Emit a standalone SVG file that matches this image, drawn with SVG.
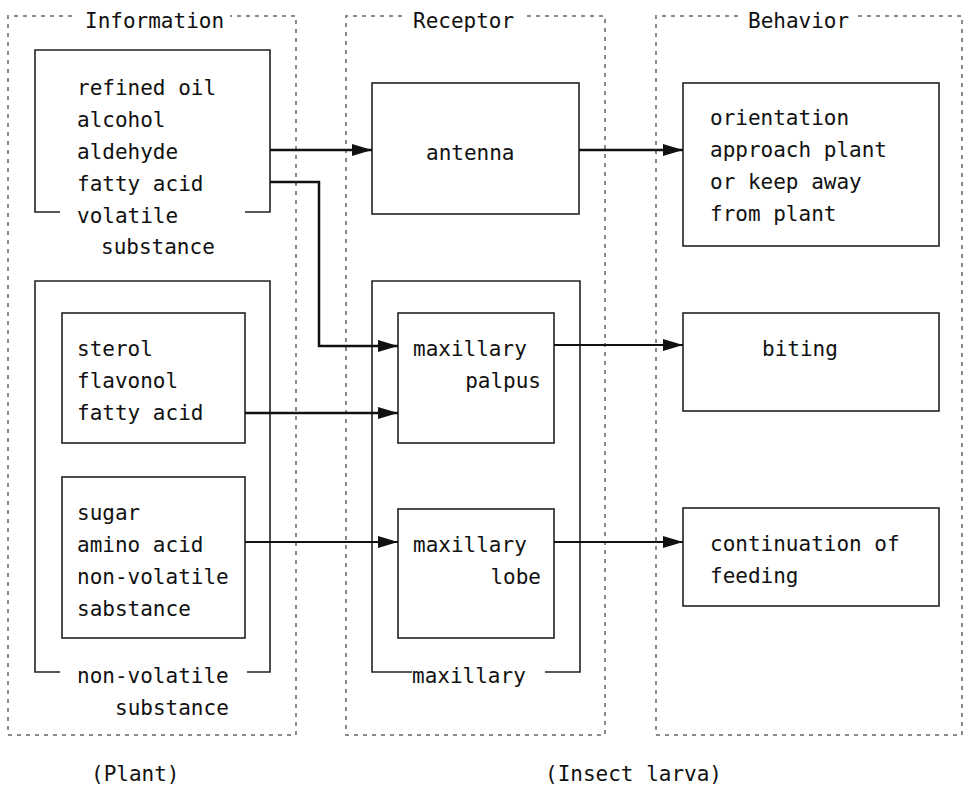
<svg xmlns="http://www.w3.org/2000/svg" width="965" height="786" viewBox="0 0 965 786">
<defs>
<style>
text{font-family:"DejaVu Sans Mono","Liberation Mono",monospace;font-size:21px;fill:#111}
.cont{fill:none;stroke:#8a8a8a;stroke-width:2;stroke-dasharray:4 5}
.box{fill:none;stroke:#222;stroke-width:1.6}
.conn{fill:none;stroke:#111;stroke-width:2.5}
</style>
<marker id="arr" markerUnits="userSpaceOnUse" markerWidth="22" markerHeight="14" refX="20" refY="7" orient="auto">
<path d="M0,1 L20,7 L0,13 Z" fill="#111"/>
</marker>
</defs>
<rect width="965" height="786" fill="#fff"/>

<g id="info">
<path class="cont" d="M72,16 H8 V735 H296 V16 H230"/>
<text x="85" y="28">Information</text>
</g>
<g id="receptor">
<path class="cont" d="M402,16 H346 V735 H605 V16 H522"/>
<text x="413" y="28">Receptor</text>
</g>
<g id="behavior">
<path class="cont" d="M738,16 H656 V735 H962 V16 H858"/>
<text x="748" y="28">Behavior</text>
</g>

<g id="volatile">
<path class="box" d="M60,212 H35 V50 H270 V212 H245"/>
<text x="77" y="95">refined oil</text>
<text x="77" y="127">alcohol</text>
<text x="77" y="159">aldehyde</text>
<text x="77" y="191">fatty acid</text>
<text x="77" y="223">volatile</text>
<text x="101" y="254">substance</text>
</g>

<g id="nonvolatile">
<path class="box" d="M60,672 H35 V281 H270 V672 H247"/>
<text x="77" y="683">non-volatile</text>
<text x="115" y="715">substance</text>
</g>

<g id="sterol">
<rect class="box" x="62" y="313" width="183" height="130"/>
<text x="77" y="356">sterol</text>
<text x="77" y="388">flavonol</text>
<text x="77" y="420">fatty acid</text>
</g>

<g id="sugar">
<rect class="box" x="62" y="477" width="183" height="161"/>
<text x="77" y="520">sugar</text>
<text x="77" y="552">amino acid</text>
<text x="77" y="584">non-volatile</text>
<text x="77" y="616">sabstance</text>
</g>

<g id="antenna">
<rect class="box" x="372" y="83" width="207" height="131"/>
<text x="426" y="160">antenna</text>
</g>

<g id="maxillary">
<path class="box" d="M412,672 H372 V281 H580 V672 H545"/>
<text x="412" y="683">maxillary</text>
</g>

<g id="palpus">
<rect class="box" x="398" y="313" width="156" height="130"/>
<text x="413" y="356">maxillary</text>
<text x="541" y="388" text-anchor="end">palpus</text>
</g>

<g id="lobe">
<rect class="box" x="398" y="509" width="156" height="129"/>
<text x="413" y="552">maxillary</text>
<text x="541" y="584" text-anchor="end">lobe</text>
</g>

<g id="orientation">
<rect class="box" x="683" y="83" width="256" height="163"/>
<text x="710" y="125">orientation</text>
<text x="710" y="157">approach plant</text>
<text x="710" y="189">or keep away</text>
<text x="710" y="221">from plant</text>
</g>

<g id="biting">
<rect class="box" x="683" y="313" width="256" height="98"/>
<text x="762" y="356">biting</text>
</g>

<g id="continuation">
<rect class="box" x="683" y="508" width="256" height="98"/>
<text x="710" y="551">continuation of</text>
<text x="710" y="583">feeding</text>
</g>

<g id="connectors">
<path class="conn" d="M270,150 H372" marker-end="url(#arr)"/>
<path class="conn" d="M270,182 H319 V346 H398" marker-end="url(#arr)"/>
<path class="conn" d="M245,413 H398" marker-end="url(#arr)"/>
<path class="conn" d="M245,542 H398" marker-end="url(#arr)" style="stroke-width:2"/>
<path class="conn" d="M579,150 H683" marker-end="url(#arr)"/>
<path class="conn" d="M554,345 H683" marker-end="url(#arr)" style="stroke-width:2"/>
<path class="conn" d="M554,542 H683" marker-end="url(#arr)" style="stroke-width:2"/>
</g>

<g id="captions">
<text x="91" y="781">(Plant)</text>
<text x="545" y="781">(Insect larva)</text>
</g>
</svg>
